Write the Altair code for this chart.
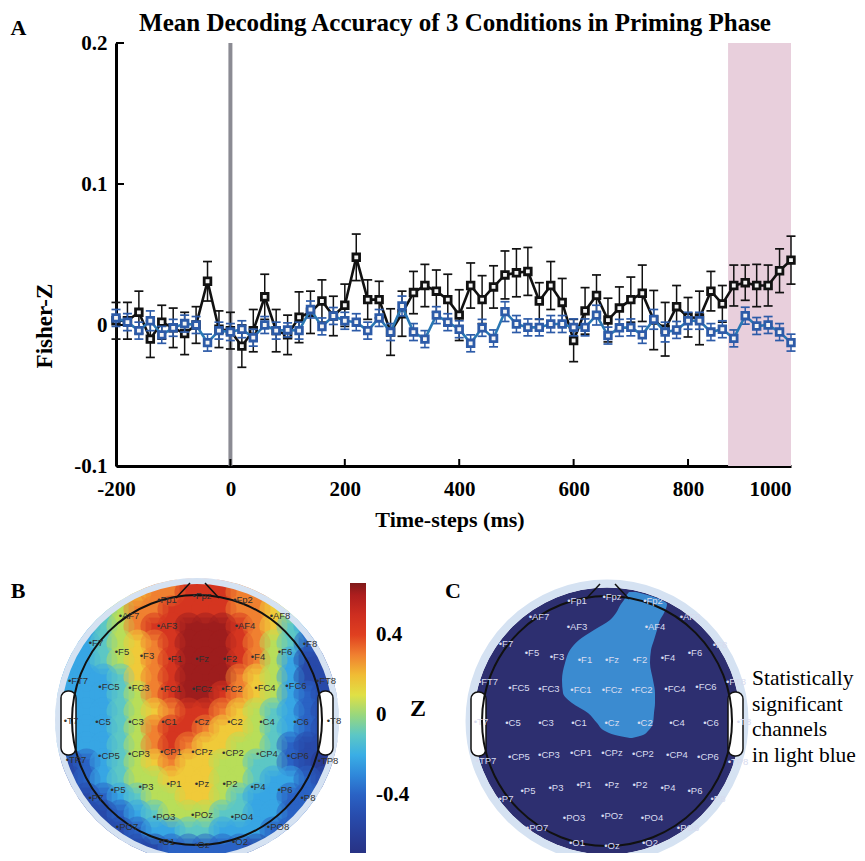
import altair as alt
import pandas as pd

# ---------------- Panel A : decoding accuracy (Fisher-Z) ----------------
time_ms = [-200, -180, -160, -140, -120, -100, -80, -60, -40, -20,
           0, 20, 40, 60, 80, 100, 120, 140, 160, 180,
           200, 220, 240, 260, 280, 300, 320, 340, 360, 380,
           400, 420, 440, 460, 480, 500, 520, 540, 560, 580,
           600, 620, 640, 660, 680, 700, 720, 740, 760, 780,
           800, 820, 840, 860, 880, 900, 920, 940, 960, 980]
black_mean = [0.003, 0.003, 0.009, -0.010, 0.002, -0.002, -0.006, 0.000, 0.031, -0.003,
              -0.004, -0.015, -0.004, 0.020, -0.004, -0.007, 0.0055, 0.009, 0.017, 0.0064,
              0.014, 0.048, 0.018, 0.018, -0.005, 0.008, 0.023, 0.028, 0.024, 0.018,
              0.007, 0.028, 0.018, 0.027, 0.0355, 0.037, 0.038, 0.017, 0.028, 0.016,
              -0.011, 0.010, 0.021, 0.0035, 0.012, 0.018, 0.0225, 0.0035, -0.003, 0.013,
              0.0055, 0.005, 0.024, 0.015, 0.028, 0.030, 0.028, 0.028, 0.0385, 0.046]
black_err = [0.013, 0.013, 0.015, 0.013, 0.012, 0.014, 0.015, 0.013, 0.014, 0.013,
             0.013, 0.015, 0.015, 0.016, 0.015, 0.014, 0.018, 0.015, 0.015, 0.014,
             0.015, 0.0165, 0.014, 0.013, 0.0165, 0.016, 0.015, 0.015, 0.015, 0.018,
             0.018, 0.016, 0.017, 0.015, 0.017, 0.017, 0.017, 0.013, 0.017, 0.017,
             0.015, 0.0165, 0.0145, 0.0155, 0.015, 0.016, 0.020, 0.021, 0.019, 0.015,
             0.014, 0.019, 0.014, 0.013, 0.0145, 0.0125, 0.015, 0.0145, 0.0155, 0.017]
blue_mean = [0.005, 0.002, -0.004, 0.003, -0.007, -0.002, 0.001, 0.000, -0.0125, -0.004,
             -0.005, -0.003, -0.009, 0.000, -0.004, -0.0035, -0.004, 0.011, -0.001, 0.0064,
             0.003, 0.002, -0.004, 0.005, -0.005, 0.0135, -0.005, -0.010, 0.007, 0.002,
             -0.003, -0.013, -0.002, -0.0095, 0.0095, 0.0007, -0.0017, -0.0017, 0.0007, 0.0007,
             -0.0017, -0.0017, 0.007, -0.0075, -0.002, -0.0017, -0.007, 0.004, -0.005, -0.0035,
             0.003, 0.003, -0.005, -0.003, -0.0095, 0.0066, -0.0007, 0.000, -0.005, -0.0125]
blue_err = [0.006, 0.006, 0.006, 0.007, 0.006, 0.006, 0.006, 0.006, 0.006, 0.006,
            0.006, 0.006, 0.006, 0.006, 0.006, 0.005, 0.006, 0.006, 0.006, 0.006,
            0.006, 0.006, 0.006, 0.006, 0.006, 0.007, 0.006, 0.006, 0.006, 0.006,
            0.006, 0.006, 0.006, 0.006, 0.007, 0.006, 0.006, 0.006, 0.006, 0.006,
            0.006, 0.006, 0.007, 0.006, 0.006, 0.006, 0.006, 0.007, 0.007, 0.006,
            0.006, 0.006, 0.006, 0.006, 0.006, 0.006, 0.006, 0.006, 0.006, 0.006]
onset_ms = [0]
window_ms = [870, 980]
x_ticks = [-200, 0, 200, 400, 600, 800, 980]
y_ticks = [-0.1, 0, 0.1, 0.2]

# ---------------- Panel B : topography (Z), grid ----------------
level_z = [-0.65, -0.52, -0.4, -0.22, -0.1, 0.04, 0.17, 0.3, 0.46, 0.62]
topo_rows = [
    "5556677888776655",
    "3445778888776543",
    "3345788999876432",
    "3345678999875421",
    "3345678999875311",
    "3334678999765311",
    "3334578998765321",
    "3334567887654321",
    "3334578876654321",
    "3334578766554211",
    "1234567665544210",
    "1234556665543321",
    "1123455665433221",
    "1112345554433221",
    "0011233443332211",
    "1111112222211111",
]
legend_ticks = [-0.4, 0, 0.4]

# electrode montage (label centre offsets from head centre, px)
ch_names = ["Fp1", "Fpz", "Fp2", "AF7", "AF3", "AF4", "AF8",
            "F7", "F5", "F3", "F1", "Fz", "F2", "F4", "F6", "F8",
            "FT7", "FC5", "FC3", "FC1", "FCz", "FC2", "FC4", "FC6", "FT8",
            "T7", "C5", "C3", "C1", "Cz", "C2", "C4", "C6", "T8",
            "TP7", "CP5", "CP3", "CP1", "CPz", "CP2", "CP4", "CP6", "TP8",
            "P7", "P5", "P3", "P1", "Pz", "P2", "P4", "P6", "P8",
            "PO7", "PO3", "POz", "PO4", "PO8", "O1", "Oz", "O2"]
ch_dx = [-30, 5, 46, -68, -30, 48, 83,
         -101, -75, -50, -22, 5, 33, 61, 88, 113,
         -119, -88, -58, -26, 5, 35, 68, 99, 129,
         -126, -94, -61, -28, 5, 38, 70, 104, 137,
         -121, -88, -58, -26, 5, 36, 70, 101, 131,
         -101, -79, -51, -23, 5, 33, 61, 88, 111,
         -70, -33, 5, 45, 81, -30, 5, 43]
ch_dy = [-120, -124, -120, -104, -94, -94, -104,
         -77, -68, -64, -61, -61, -61, -63, -68, -76,
         -39, -33, -32, -31, -31, -31, -32, -34, -39,
         1, 2, 2, 2, 2, 2, 2, 2, 1,
         40, 36, 34, 32, 32, 33, 34, 36, 41,
         78, 70, 67, 64, 64, 64, 67, 70, 78,
         107, 97, 95, 97, 107, 122, 125, 122]

# ---------------- Panel C : significant region outline ----------------
sig_y = [592, 596, 600, 604, 613, 620, 630, 640, 650, 663, 680, 693, 703, 713, 723, 731, 735, 738]
sig_xl = [629, 626, 624, 621, 616, 610, 594, 579, 570, 565, 562, 563, 572, 588, 597, 605, 615, 630]
sig_xr = [636, 651, 661, 667, 664, 660, 657, 654, 651, 650, 653, 655, 655, 654, 653, 648, 643, 632]
note_lines = ["Statistically", "significant", "channels", "in light blue"]

# ---------------- layout helpers ----------------
W, H = 675, 423
SERIF = "Liberation Serif"
SANS = "Liberation Sans"
B_C = (197, 720)
C_C = (607, 721)
CELL = 17
GX0, GY0 = 61, 584
MINUS_FIX = "datum.value == 0 ? '0' : replace(datum.label, '\u2212', '-')"


def sx():
    return alt.Scale(domain=[-200, 980], nice=False, zero=False)


def sy():
    return alt.Scale(domain=[-0.1, 0.2], nice=False, zero=False)


def spx():
    return alt.Scale(domain=[116, 791], range=[0, W], nice=False, zero=False)


def spy():
    return alt.Scale(domain=[43, 466], range=[0, H], nice=False, zero=False)


def TX(f, **kw):
    return alt.X(f, type="quantitative", scale=sx(), axis=None, **kw)


def TY(f, **kw):
    return alt.Y(f, type="quantitative", scale=sy(), axis=None, **kw)


def PX(f, **kw):
    return alt.X(f, type="quantitative", scale=spx(), axis=None, **kw)


def PY(f, **kw):
    return alt.Y(f, type="quantitative", scale=spy(), axis=None, **kw)


dfA = pd.DataFrame({"t": time_ms, "black": black_mean, "black_err": black_err,
                    "blue": blue_mean, "blue_err": blue_err})
dfA["black_lo"] = dfA["black"] - dfA["black_err"]
dfA["black_hi"] = dfA["black"] + dfA["black_err"]
dfA["blue_lo"] = dfA["blue"] - dfA["blue_err"]
dfA["blue_hi"] = dfA["blue"] + dfA["blue_err"]

layers = []

# shaded window and stimulus onset
layers.append(alt.Chart(pd.DataFrame({"t0": [window_ms[0]], "t1": [window_ms[1]]}))
              .mark_rect(color="#e8cfdc")
              .encode(x=TX("t0"), x2=alt.X2("t1"), y=alt.value(0), y2=alt.value(H)))
layers.append(alt.Chart(pd.DataFrame({"t": onset_ms}))
              .mark_rule(color="#8b8b93", strokeWidth=4)
              .encode(x=TX("t"), y=alt.value(0), y2=alt.value(H)))
# inward ticks
layers.append(alt.Chart(pd.DataFrame({"v": y_ticks}))
              .mark_rule(color="black", strokeWidth=2)
              .encode(y=TY("v"), x=alt.value(0), x2=alt.value(8)))
layers.append(alt.Chart(pd.DataFrame({"t": x_ticks[1:-1]}))
              .mark_rule(color="black", strokeWidth=2)
              .encode(x=TX("t"), y=alt.value(H), y2=alt.value(H - 7)))

xaxis = alt.Axis(values=x_ticks, title=None, grid=False, ticks=False, labelFlush=False,
                 labelExpr="datum.value >= 980 ? '1000' : replace(datum.label, '\u2212', '-')",
                 labelAlign={"condition": {"test": "datum.value >= 980", "value": "right"},
                             "value": "center"},
                 labelFont=SERIF, labelFontSize=21, labelFontWeight="bold", labelColor="black",
                 labelPadding=12, labelOverlap=False, domainColor="black", domainWidth=3)
yaxis = alt.Axis(values=y_ticks, title=None, grid=False, ticks=False,
                 labelExpr=MINUS_FIX,
                 labelFont=SERIF, labelFontSize=21, labelFontWeight="bold", labelColor="black",
                 labelPadding=9, labelOverlap=False, domainColor="black", domainWidth=3)


def series(col, bar_color, line_color, mark_stroke, with_axes=False):
    base = alt.Chart(dfA)
    out = [
        base.mark_rule(color=bar_color, strokeWidth=1.5)
        .encode(x=TX("t"), y=TY(col + "_lo"), y2=alt.Y2(col + "_hi")),
        base.transform_fold([col + "_lo", col + "_hi"], as_=["end", "val"])
        .mark_tick(orient="horizontal", color=bar_color, thickness=1.7, size=9, opacity=1)
        .encode(x=TX("t"), y=TY("val")),
    ]
    if with_axes:
        line = base.mark_line(color=line_color, strokeWidth=2.6).encode(
            x=alt.X("t", type="quantitative", scale=sx(), axis=xaxis),
            y=alt.Y(col, type="quantitative", scale=sy(), axis=yaxis))
    else:
        line = base.mark_line(color=line_color, strokeWidth=2.6).encode(x=TX("t"), y=TY(col))
    out.append(line)
    out.append(base.mark_point(shape="square", size=44, filled=True, fill="#f4f4f4",
                               stroke=mark_stroke, strokeWidth=2.8, opacity=1)
               .encode(x=TX("t"), y=TY(col)))
    return out


layers += series("black", "#111111", "#111111", "#111111", with_axes=True)
layers += series("blue", "#2d5ba8", "#2a78b4", "#2d5ba8")

# ---------------- text (page-pixel coordinates) ----------------
layers.append(alt.Chart(pd.DataFrame({"x": [455], "y": [30.5],
                                      "s": ["Mean Decoding Accuracy of 3 Conditions in Priming Phase"]}))
              .mark_text(font=SERIF, fontSize=25, fontWeight="bold", color="black",
                         align="center", baseline="alphabetic")
              .encode(x=PX("x"), y=PY("y"), text="s:N"))
layers.append(alt.Chart(pd.DataFrame({"x": [18.5, 18, 453], "y": [35, 598, 598], "s": ["A", "B", "C"]}))
              .mark_text(font=SERIF, fontSize=22, fontWeight="bold", color="black",
                         align="center", baseline="alphabetic")
              .encode(x=PX("x"), y=PY("y"), text="s:N"))
layers.append(alt.Chart(pd.DataFrame({"x": [52], "y": [326], "s": ["Fisher-Z"]}))
              .mark_text(font=SERIF, fontSize=23, fontWeight="bold", color="black", angle=270,
                         align="center", baseline="alphabetic")
              .encode(x=PX("x"), y=PY("y"), text="s:N"))
layers.append(alt.Chart(pd.DataFrame({"x": [450], "y": [527], "s": ["Time-steps (ms)"]}))
              .mark_text(font=SERIF, fontSize=22, fontWeight="bold", color="black",
                         align="center", baseline="alphabetic")
              .encode(x=PX("x"), y=PY("y"), text="s:N"))

# ---------------- Panel B ----------------
cells = []
for j, row in enumerate(topo_rows):
    for i, ch in enumerate(row):
        cx = GX0 + CELL * i + CELL / 2
        cy = GY0 + CELL * j + CELL / 2
        if (cx - B_C[0]) ** 2 + (cy - B_C[1]) ** 2 <= 148 ** 2:
            cells.append({"cx": cx, "cy": cy,
                          "x0": cx - 8.9, "x1": cx + 8.9, "y0": cy - 8.9, "y1": cy + 8.9,
                          "z": level_z[int(ch)]})
dfCells = pd.DataFrame(cells)

jet = alt.Scale(domain=[-0.71, -0.525, -0.4, -0.275, -0.15, -0.015, 0.05, 0.125,
                        0.225, 0.3, 0.4, 0.575, 0.66],
                range=["#283080", "#2848a8", "#2a62c4", "#3092e0", "#40c0e8", "#8cd48a",
                       "#c0e050", "#f0e040", "#f0b030", "#f08030", "#e04020", "#c02020",
                       "#7f1a1a"],
                interpolate="rgb")
layers.append(alt.Chart(dfCells).mark_rect().encode(
    x=PX("x0"), x2=alt.X2("x1"), y=PY("y0"), y2=alt.Y2("y1"),
    color=alt.Color("z", type="quantitative", scale=jet,
                    legend=alt.Legend(orient="none", legendX=350 - 116, legendY=583 - 43,
                                      direction="vertical", gradientLength=274,
                                      gradientThickness=16, title=None, values=legend_ticks,
                                      labelExpr=MINUS_FIX,
                                      labelFont=SERIF, labelFontSize=21, labelFontWeight="bold",
                                      labelColor="black", labelOffset=10, padding=0,
                                      gradientStrokeWidth=0, zindex=1, labelOverlap=False))))
# soft blending of the cell edges (same values drawn as translucent discs)
layers.append(alt.Chart(dfCells).mark_point(shape="circle", filled=True, size=4 * 14 * 14,
                                            opacity=0.5, strokeWidth=0)
              .encode(x=PX("cx"), y=PY("cy"),
                      color=alt.Color("z", type="quantitative", scale=jet, legend=None)))

dfB = pd.DataFrame({"cx": [B_C[0]], "cy": [B_C[1]]})
dfC = pd.DataFrame({"cx": [C_C[0]], "cy": [C_C[1]]})


def ring(df, r, width, color):
    return (alt.Chart(df).mark_point(shape="circle", filled=False, stroke=color,
                                     strokeWidth=width, size=4 * r * r, opacity=1)
            .encode(x=PX("cx"), y=PY("cy")))


def disc(df, r, color):
    return (alt.Chart(df).mark_point(shape="circle", filled=True, fill=color,
                                     strokeWidth=0, size=4 * r * r, opacity=1)
            .encode(x=PX("cx"), y=PY("cy")))


def head_parts(center, label_color):
    cx, cy = center
    ears = pd.DataFrame({"x0": [cx - 136, cx + 121], "x1": [cx - 121, cx + 136],
                         "y0": [cy - 29, cy - 29], "y1": [cy + 35, cy + 35]})
    nose = pd.DataFrame({"seg": [0, 0, 1, 1],
                         "x": [cx - 21, cx - 7, cx + 8, cx + 22],
                         "y": [cy - 122, cy - 137, cy - 137, cy - 122],
                         "o": [0, 1, 0, 1]})
    labels = pd.DataFrame({"x": [cx + d for d in ch_dx], "y": [cy + d for d in ch_dy],
                           "s": ["\u2022" + n for n in ch_names]})
    return [
        alt.Chart(ears).mark_rect(cornerRadius=7, fill="white", stroke="#111111", strokeWidth=1.5)
        .encode(x=PX("x0"), x2=alt.X2("x1"), y=PY("y0"), y2=alt.Y2("y1")),
        ring(pd.DataFrame({"cx": [cx], "cy": [cy]}), 125, 2, "#111111"),
        alt.Chart(nose).mark_line(color="#111111", strokeWidth=1.5)
        .encode(x=PX("x"), y=PY("y"), detail="seg:N", order="o:Q"),
        alt.Chart(labels).mark_text(font=SANS, fontSize=9.5, color=label_color,
                                    align="center", baseline="middle")
        .encode(x=PX("x"), y=PY("y"), text="s:N"),
    ]


layers.append(ring(dfB, 151.5, 19, "white"))
layers.append(ring(dfB, 139, 6, "#d5e2f2"))
layers += head_parts(B_C, "#303030")
layers.append(alt.Chart(pd.DataFrame({"x": [418], "y": [716], "s": ["Z"]}))
              .mark_text(font=SERIF, fontSize=24, fontWeight="bold", color="black",
                         align="center", baseline="alphabetic")
              .encode(x=PX("x"), y=PY("y"), text="s:N"))

# ---------------- Panel C ----------------
dfSig = pd.DataFrame({"y": sig_y, "xl": sig_xl, "xr": sig_xr})
layers.append(disc(dfC, 133.5, "#2d2f70"))
layers.append(alt.Chart(dfSig).mark_area(orient="horizontal", color="#3b8bd0",
                                         interpolate="monotone", opacity=1)
              .encode(y=PY("y"), x=PX("xl", stack=None), x2=alt.X2("xr")))
layers.append(ring(dfC, 137.5, 8, "#d5e2f2"))
layers += head_parts(C_C, "#d8dbef")
layers.append(alt.Chart(pd.DataFrame({"x": [752] * 4, "y": [685, 710.5, 736, 761.5],
                                      "s": note_lines}))
              .mark_text(font=SERIF, fontSize=21.5, color="black", align="left",
                         baseline="alphabetic")
              .encode(x=PX("x"), y=PY("y"), text="s:N"))

chart = (alt.layer(*layers)
         .resolve_scale(x="independent", y="independent")
         .properties(width=W, height=H,
                     padding={"left": 108, "top": 35, "right": 66, "bottom": 387},
                     autosize=alt.AutoSizeParams(type="none"))
         .configure_view(stroke=None))

chart.save("out.html", embed_options={"renderer": "svg", "actions": False})
